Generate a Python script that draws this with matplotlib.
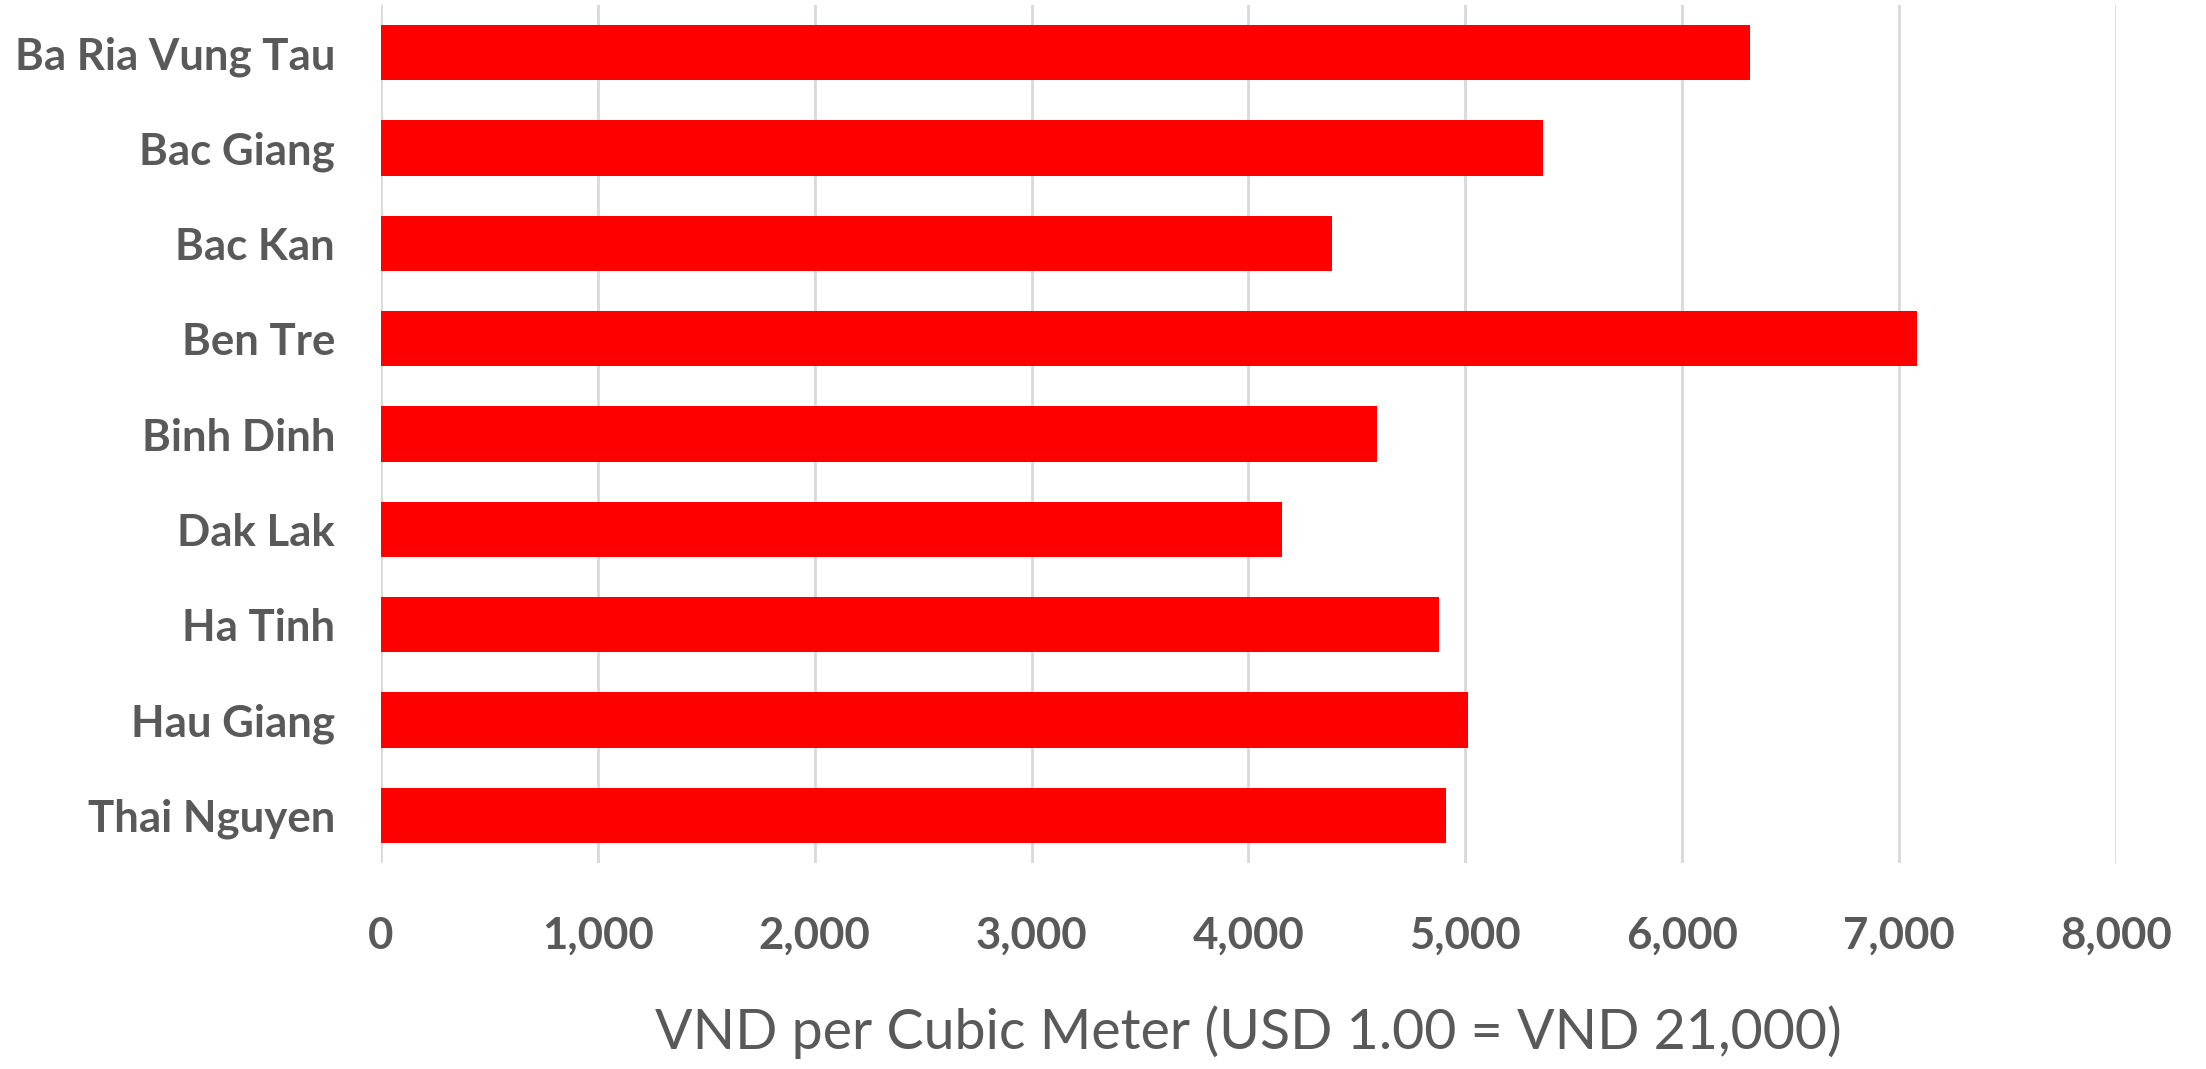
import matplotlib.pyplot as plt
from matplotlib.ticker import FuncFormatter

provinces = ['Ba Ria Vung Tau', 'Bac Giang', 'Bac Kan', 'Ben Tre', 'Binh Dinh',
             'Dak Lak', 'Ha Tinh', 'Hau Giang', 'Thai Nguyen']
price_vnd = [6312, 5360, 4386, 7082, 4593, 4155, 4878, 5013, 4910]

x_ticks = [0, 1000, 2000, 3000, 4000, 5000, 6000, 7000, 8000]

text_grey = '#595959'
plt.rcParams['font.family'] = ['Lato', 'DejaVu Sans']

fig = plt.figure(figsize=(22.06, 10.69), dpi=100)
ax = fig.add_axes([0.1727, 0.1927, 0.9592 - 0.1727, 0.9953 - 0.1927])

pos = list(range(len(provinces)))
ax.barh(pos, price_vnd, height=0.58, color='#ff0000', zorder=3)

ax.set_xlim(0, 8000)
ax.set_ylim(len(provinces) - 0.5, -0.5)
ax.set_xticks(x_ticks)
ax.xaxis.set_major_formatter(FuncFormatter(lambda v, p: f'{int(v):,}'))
ax.set_yticks(pos)
ax.set_yticklabels(provinces)

ax.grid(axis='x', color='#d9d9d9', linewidth=2, zorder=0)
for s in ax.spines.values():
    s.set_visible(False)

ax.tick_params(axis='both', length=0, colors=text_grey)
ax.tick_params(axis='y', pad=33, labelsize=31.5)
ax.tick_params(axis='x', pad=38, labelsize=31.5)
for lbl in ax.get_xticklabels() + ax.get_yticklabels():
    lbl.set_fontweight('bold')

ax.set_xlabel('VND per Cubic Meter (USD 1.00 = VND 21,000)', fontsize=40,
              color=text_grey, labelpad=36)

fig.savefig('out.png', dpi=100)
